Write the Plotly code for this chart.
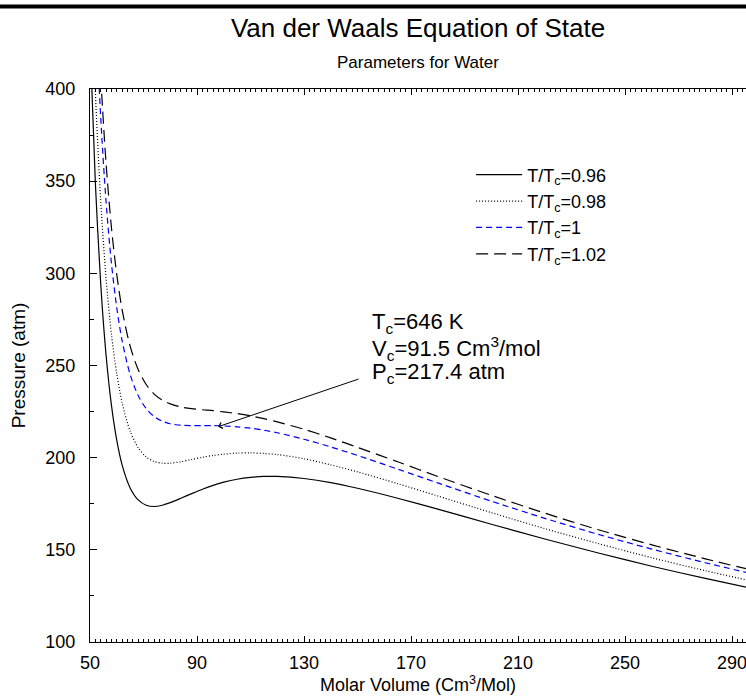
import plotly.graph_objects as go

# molar volume (cm3/mol) and pressure (atm)
volume = [50, 52, 54, 56, 58, 60, 62, 65, 68, 71, 74, 77, 80, 84, 88, 92, 96, 100,
          105, 110, 115, 120, 130, 140, 150, 165, 180, 200, 220, 240, 260, 280, 296]
p_096 = [427.2, 349.1, 294.4, 255.8, 228.6, 209.5, 196.1, 183.6, 177.1, 174.2, 173.5, 174.2,
         175.6, 178.0, 180.5, 182.9, 185.0, 186.7, 188.3, 189.3, 189.8, 189.8, 188.7, 186.5,
         183.4, 178.0, 172.1, 163.9, 155.9, 148.3, 141.1, 134.5, 129.5]
p_098 = [481.8, 398.5, 339.5, 297.4, 267.1, 245.5, 229.8, 214.4, 205.4, 200.4, 197.9, 197.0,
         197.0, 197.8, 199.0, 200.2, 201.2, 201.9, 202.5, 202.6, 202.3, 201.7, 199.4, 196.1,
         192.3, 185.9, 179.2, 170.2, 161.5, 153.4, 145.7, 138.7, 133.5]
p_100 = [536.1, 447.8, 384.7, 339.0, 305.7, 281.4, 263.5, 245.1, 233.7, 226.6, 222.3, 219.8,
         218.4, 217.6, 217.4, 217.4, 217.4, 217.2, 216.7, 216.0, 214.9, 213.5, 210.0, 205.8,
         201.2, 193.8, 186.3, 176.4, 167.1, 158.4, 150.4, 143.0, 137.5]
p_102 = [563.3, 472.5, 407.3, 359.8, 325.0, 299.4, 280.3, 260.5, 247.8, 239.7, 234.5, 231.2,
         229.2, 227.5, 226.6, 226.0, 225.5, 224.8, 223.9, 222.7, 221.2, 219.4, 215.4, 210.7,
         205.6, 197.8, 189.8, 179.6, 169.9, 160.9, 152.7, 145.1, 139.5]

names = ["T/T<sub>c</sub>=0.96", "T/T<sub>c</sub>=0.98", "T/T<sub>c</sub>=1", "T/T<sub>c</sub>=1.02"]
series = [p_096, p_098, p_100, p_102]
colors = ["black", "black", "blue", "black"]
dashes = ["solid", "1px,2px", "6px,4px", "12px,6px"]

notes = ["T<sub>c</sub>=646 K", "V<sub>c</sub>=91.5 Cm<sup>3</sup>/mol", "P<sub>c</sub>=217.4 atm"]

fig = go.Figure()
for name, p, c, d in zip(names, series, colors, dashes):
    fig.add_trace(go.Scatter(x=volume, y=p, mode="lines", name=name,
                             line=dict(color=c, width=1.2, dash=d, shape="spline", smoothing=0.8)))

font = "Liberation Sans, Arial, sans-serif"
fig.update_layout(
    width=746, height=698,
    margin=dict(l=90, r=0, t=89, b=56),
    plot_bgcolor="white", paper_bgcolor="white",
    font=dict(family=font, color="black", size=18),
    title=dict(text="Van der Waals Equation of State", x=0.5604, xanchor="center",
               y=1 - 28 / 698, yanchor="middle", font=dict(size=26)),
    showlegend=True,
    legend=dict(x=0.581, y=0.878, xanchor="left", yanchor="top", bgcolor="rgba(0,0,0,0)",
                font=dict(size=18), itemwidth=46, tracegroupgap=0),
)
fig.update_xaxes(range=[50, 295.2], tick0=50, dtick=40, ticks="inside", ticklen=6,
                 tickcolor="black", showline=True, linecolor="black", linewidth=1,
                 mirror="ticks", showgrid=False, zeroline=False, tickfont=dict(size=18),
                 ticklabelstandoff=4, ticklabeloverflow="allow",
                 minor=dict(dtick=2, ticks="inside", ticklen=3, tickcolor="black"),
                 title=dict(text="Molar Volume (Cm<sup>3</sup>/Mol)", font=dict(size=18), standoff=4))
fig.update_yaxes(range=[100, 400], tick0=100, dtick=50, ticks="inside", ticklen=7,
                 tickcolor="black", showline=True, linecolor="black", linewidth=1,
                 showgrid=False, zeroline=False, tickfont=dict(size=18), ticklabelstandoff=10,
                 minor=dict(dtick=25, ticks="inside", ticklen=4, tickcolor="black"),
                 title=dict(text="Pressure (atm)", font=dict(size=19), standoff=14))

fig.add_annotation(text="Parameters for Water", xref="paper", yref="paper", x=0.5,
                   y=1 + (89 - 62) / 553, yanchor="middle", showarrow=False, font=dict(size=17))
fig.add_annotation(text="", x=97.9, y=216.8, ax=150.9, ay=242.9, axref="x", ayref="y",
                   showarrow=True, arrowhead=4, arrowsize=1.2, arrowwidth=1, arrowcolor="black")
for note, ny in zip(notes, [272.8, 259.2, 246.2]):
    fig.add_annotation(text=note, x=154.7, y=ny, xanchor="left", yanchor="middle", align="left",
                       showarrow=False, font=dict(size=22))
# thick rule across the top of the page
fig.add_annotation(text=" ", xref="paper", yref="paper", x=(373 - 90) / 656, y=1 + (89 - 6.5) / 553,
                   xanchor="center", yanchor="middle", width=760, height=3, borderpad=0,
                   bgcolor="black", showarrow=False, font=dict(size=1))

fig.write_html("out.html", config={"displayModeBar": False},
               post_script="document.body.style.margin='0';")
